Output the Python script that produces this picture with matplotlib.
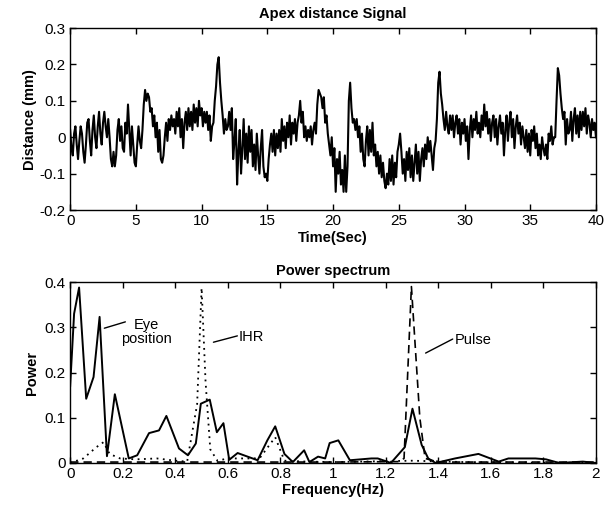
import numpy as np
import matplotlib
matplotlib.use('Agg')
import matplotlib.pyplot as plt

plt.rcParams['font.family'] = ['Liberation Sans', 'DejaVu Sans']

# apex distance signal, one value every 0.1 s (mm)
t = np.arange(0, 40.05, 0.1)
dist = [
    0.02, -0.03, -0.05, 0.01, 0.03, -0.02, -0.06, -0.01, 0.03, 0.01,
    -0.04, -0.07, -0.02, 0.04, 0.05, -0.01, -0.05, 0.02, 0.06, 0.00,
    -0.03, 0.03, 0.07, 0.01, -0.02, 0.04, 0.07, 0.03, 0.00, 0.05,
    0.00, -0.06, -0.08, -0.04, -0.08, -0.05, 0.02, 0.05, -0.01, 0.03,
    -0.03, -0.04, 0.04, 0.01, 0.09, 0.02, -0.05, 0.03, -0.02, -0.07,
    -0.08, -0.02, 0.03, -0.01, -0.03, 0.02, 0.09, 0.13, 0.10, 0.12,
    0.11, 0.07, 0.08, 0.03, 0.06, 0.00, 0.04, -0.04, 0.02, -0.06,
    -0.07, -0.05, 0.00, 0.04, -0.01, 0.05, 0.02, 0.06, 0.03, 0.05,
    0.01, 0.07, 0.03, 0.08, 0.00, 0.05, -0.03, 0.04, 0.07, 0.02,
    0.08, 0.03, 0.07, 0.02, 0.09, 0.04, 0.08, 0.03, 0.10, 0.06,
    0.08, 0.03, 0.07, 0.04, 0.07, 0.02, 0.06, -0.01, 0.03, 0.04,
    0.10, 0.14, 0.20, 0.22, 0.15, 0.10, 0.06, 0.01, 0.05, 0.02,
    0.03, 0.07, 0.02, 0.08, -0.06, -0.01, 0.05, -0.13, -0.04, 0.02,
    -0.10, -0.03, 0.05, -0.06, 0.01, -0.07, 0.03, -0.04, 0.02, -0.08,
    -0.02, -0.09, 0.01, -0.05, -0.10, -0.03, 0.02, -0.08, -0.11, -0.10,
    -0.12, -0.06, -0.02, 0.01, -0.04, 0.02, -0.05, 0.01, -0.03, 0.02,
    -0.04, 0.05, -0.01, 0.03, -0.03, 0.04, 0.00, 0.06, -0.02, 0.04,
    0.01, 0.05, -0.01, 0.04, 0.06, 0.10, 0.04, 0.07, 0.00, 0.03,
    -0.01, 0.02, 0.00, 0.03, -0.02, 0.02, 0.04, 0.01, 0.09, 0.13,
    0.12, 0.11, 0.08, 0.11, 0.04, 0.06, 0.01, -0.02, -0.05, 0.00,
    -0.08, -0.03, -0.15, -0.06, -0.10, -0.04, -0.13, -0.09, -0.15, -0.05,
    -0.15, -0.08, 0.10, 0.15, 0.08, 0.04, 0.05, 0.02, 0.05, 0.00,
    0.03, -0.04, 0.01, -0.06, -0.08, -0.01, 0.03, -0.05, 0.02, -0.04,
    0.04, -0.05, -0.02, -0.08, -0.04, -0.10, -0.05, -0.11, -0.07, -0.12,
    -0.14, -0.10, -0.13, -0.06, -0.12, -0.05, -0.13, -0.07, -0.11, -0.04,
    -0.02, 0.01, -0.04, -0.10, -0.06, -0.12, -0.04, -0.09, -0.03, -0.11,
    -0.05, -0.12, -0.07, -0.02, -0.10, -0.04, -0.12, -0.06, -0.03, -0.08,
    -0.02, -0.06, 0.00, -0.04, -0.01, -0.05, -0.09, -0.03, -0.01, 0.05,
    0.15, 0.18, 0.12, 0.09, 0.05, 0.02, 0.07, 0.03, 0.01, 0.06,
    0.02, 0.06, 0.00, 0.04, 0.06, 0.01, 0.05, -0.02, 0.04, 0.01,
    0.05, -0.01, 0.03, -0.06, 0.02, 0.06, 0.00, 0.05, 0.02, 0.07,
    0.01, 0.04, 0.00, 0.06, 0.02, 0.09, 0.03, 0.07, 0.01, 0.05,
    -0.01, 0.04, 0.06, 0.00, 0.05, -0.02, 0.03, 0.06, 0.01, 0.04,
    -0.05, 0.02, 0.06, -0.01, 0.04, 0.07, 0.00, 0.05, -0.03, 0.03,
    0.06, 0.01, 0.04, -0.02, 0.03, 0.00, -0.03, 0.02, -0.04, 0.01,
    -0.05, 0.02, -0.01, 0.03, -0.03, 0.01, -0.05, -0.02, -0.06, 0.00,
    -0.03, -0.05, -0.02, -0.06, 0.01, -0.01, 0.03, -0.02, 0.00, 0.00,
    0.10, 0.19, 0.17, 0.12, 0.08, 0.05, 0.07, -0.02, 0.05, 0.01,
    0.02, 0.07, -0.01, 0.05, 0.08, 0.01, 0.06, 0.00, 0.07, 0.02,
    0.07, 0.03, 0.08, 0.01, 0.06, 0.04, 0.00, 0.05, 0.02, 0.04,
    0.00,
]

# power spectrum curves
f_eye = [0, 0.015, 0.034, 0.061, 0.089, 0.112, 0.14, 0.17, 0.223, 0.255, 0.30, 0.338,
         0.366, 0.414, 0.448, 0.478, 0.497, 0.531, 0.558, 0.583, 0.605, 0.637, 0.713,
         0.75, 0.78, 0.815, 0.847, 0.89, 0.91, 0.943, 0.97, 0.987, 1.02, 1.064, 1.146,
         1.17, 1.22, 1.273, 1.302, 1.337, 1.362, 1.39, 1.464, 1.553, 1.63, 1.667, 1.77,
         1.81, 1.86, 1.95, 2.0]
p_eye = [0.17, 0.33, 0.388, 0.142, 0.19, 0.323, 0.015, 0.152, 0.01, 0.017, 0.066, 0.072,
         0.104, 0.032, 0.017, 0.043, 0.131, 0.14, 0.068, 0.088, 0.007, 0.022, 0.006,
         0.05, 0.081, 0.02, 0.002, 0.028, 0.002, 0.014, 0.01, 0.044, 0.05, 0.006, 0.01,
         0.01, 0.0, 0.035, 0.12, 0.04, 0.01, 0.0, 0.01, 0.02, 0.003, 0.01, 0.01,
         0.008, 0.0, 0.003, 0.0]

f_ihr = [0, 0.05, 0.10, 0.127, 0.15, 0.19, 0.25, 0.33, 0.40, 0.445, 0.483, 0.50, 0.515,
         0.533, 0.56, 0.60, 0.70, 0.724, 0.78, 0.815, 0.9, 1.0, 1.3, 1.5, 2.0]
p_ihr = [0.0, 0.01, 0.035, 0.046, 0.02, 0.01, 0.008, 0.01, 0.005, 0.003, 0.13, 0.387, 0.18,
         0.03, 0.005, 0.01, 0.01, 0.013, 0.057, 0.005, 0.003, 0.002, 0.005, 0.002, 0.0]

f_pulse = [0, 0.5, 1.0, 1.25, 1.27, 1.298, 1.33, 1.35, 1.4, 2.0]
p_pulse = [0.002, 0.002, 0.002, 0.003, 0.01, 0.39, 0.10, 0.01, 0.002, 0.002]

fig = plt.figure(figsize=(6.1, 5.11), dpi=100)
ax1 = fig.add_axes([0.115, 0.589, 0.862, 0.356])
ax2 = fig.add_axes([0.115, 0.094, 0.862, 0.354])

ax1.plot(t, dist, color='k', lw=1.5)
ax1.set_xlim(0, 40)
ax1.set_ylim(-0.2, 0.3)
ax1.set_xticks(np.arange(0, 41, 5))
ax1.set_yticks([-0.2, -0.1, 0, 0.1, 0.2, 0.3])
ax1.set_yticklabels(['-0.2', '-0.1', '0', '0.1', '0.2', '0.3'])
ax1.set_title('Apex distance Signal', fontsize=10.5, fontweight='bold', pad=7)
ax1.set_xlabel('Time(Sec)', fontsize=10.5, fontweight='bold', labelpad=2)
ax1.set_ylabel('Distance (mm)', fontsize=10.5, fontweight='bold', labelpad=2)

ax2.plot(f_eye, p_eye, color='k', lw=1.4)
ax2.plot(f_ihr, p_ihr, color='k', lw=1.3, ls=(0, (1, 2.5)))
ax2.plot(f_pulse, p_pulse, color='k', lw=1.2, ls=(0, (5, 3)))
ax2.set_xlim(0, 2)
ax2.set_ylim(0, 0.4)
ax2.set_xticks(np.arange(0, 2.01, 0.2))
ax2.set_xticklabels(['0', '0.2', '0.4', '0.6', '0.8', '1', '1.2', '1.4', '1.6', '1.8', '2'])
ax2.set_yticks([0, 0.1, 0.2, 0.3, 0.4])
ax2.set_yticklabels(['0', '0.1', '0.2', '0.3', '0.4'])
ax2.set_title('Power spectrum', fontsize=10.5, fontweight='bold', pad=5)
ax2.set_xlabel('Frequency(Hz)', fontsize=10.5, fontweight='bold', labelpad=1)
ax2.set_ylabel('Power', fontsize=10.5, fontweight='bold', labelpad=4)

arrow = dict(arrowstyle='-', color='k', lw=1, shrinkA=0, shrinkB=0)
ax2.annotate('', xy=(0.13, 0.298), xytext=(0.21, 0.312), arrowprops=arrow)
ax2.text(0.29, 0.29, 'Eye\nposition', ha='center', va='center', fontsize=10.5, linespacing=1.05)
ax2.annotate('', xy=(0.545, 0.267), xytext=(0.636, 0.281), arrowprops=arrow)
ax2.text(0.64, 0.279, 'IHR', ha='left', va='center', fontsize=10.5)
ax2.annotate('', xy=(1.352, 0.243), xytext=(1.455, 0.274), arrowprops=arrow)
ax2.text(1.463, 0.273, 'Pulse', ha='left', va='center', fontsize=10.5)

for ax in (ax1, ax2):
    ax.tick_params(direction='in', top=True, right=True, length=4, width=1,
                   labelsize=11, pad=3)
    for s in ax.spines.values():
        s.set_linewidth(1)

fig.savefig('out.png', dpi=100)
